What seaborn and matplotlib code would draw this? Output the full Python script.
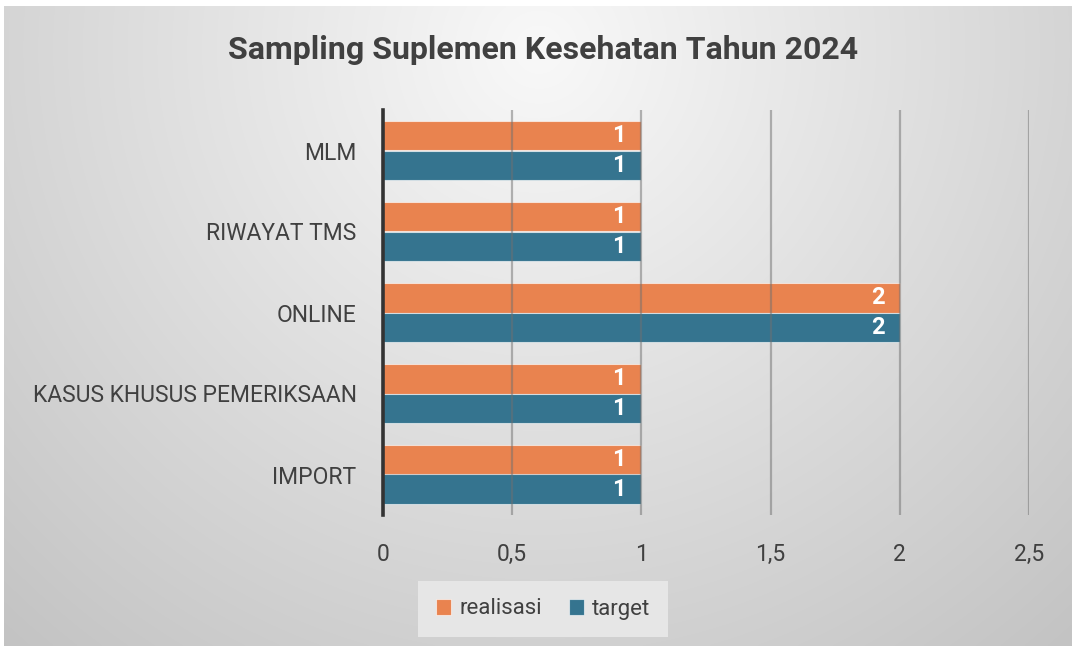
import numpy as np
import matplotlib.pyplot as plt
import seaborn as sns
import pandas as pd

categories = ["MLM", "RIWAYAT TMS", "ONLINE", "KASUS KHUSUS PEMERIKSAAN", "IMPORT"]
realisasi = [1, 1, 2, 1, 1]
target = [1, 1, 2, 1, 1]
series_names = ["realisasi", "target"]
x_ticks = [0, 0.5, 1, 1.5, 2, 2.5]
x_ticklabels = ["0", "0,5", "1", "1,5", "2", "2,5"]
title = "Sampling Suplemen Kesehatan Tahun 2024"

colors = {"realisasi": "#E9834F", "target": "#35748F"}

df = pd.DataFrame({
    "kategori": categories * 2,
    "nilai": realisasi + target,
    "seri": [series_names[0]] * len(categories) + [series_names[1]] * len(categories),
})

sns.set_theme(style="white")
plt.rcParams["font.family"] = ["Roboto", "DejaVu Sans"]

W, H = 1076, 650
fig = plt.figure(figsize=(W / 100, H / 100), dpi=100)
fig.patch.set_facecolor("white")

# gradient background (light at top centre, grey towards edges)
bg = fig.add_axes([4 / W, 4 / H, (W - 8) / W, (H - 10) / H], zorder=-10)
yy, xx = np.mgrid[0:300, 0:500]
r = np.sqrt(((xx - 250) / 320.0) ** 2 + ((yy - 20) / 320.0) ** 2)
shade = 0.975 - 0.18 * np.clip(r, 0, 1.2)
bg.imshow(np.dstack([shade] * 3), aspect="auto", interpolation="bilinear")
bg.axis("off")

ax = fig.add_axes([383 / W, 1 - 515 / H, 646 / W, 405 / H])
ax.patch.set_alpha(0)

sns.barplot(data=df, y="kategori", x="nilai", hue="seri", order=categories,
            hue_order=series_names, palette=colors, orient="h", width=0.74,
            edgecolor=(1, 1, 1, 0.6), linewidth=0.8, saturation=1,
            legend=True, ax=ax, zorder=2)

for cont in ax.containers:
    ax.bar_label(cont, labels=[f"{v:g}" for v in cont.datavalues], padding=-21,
                 color="white", fontsize=17, fontweight="bold", zorder=5)

ax.set_xlim(0, 2.5)
ax.set_ylim(len(categories) - 0.5, -0.5)
ax.set_xticks(x_ticks)
ax.set_xticklabels(x_ticklabels)
ax.xaxis.grid(True, color="#707070", linewidth=1.6, alpha=0.5, zorder=3)
ax.set_axisbelow(False)
for s in ["top", "right", "bottom"]:
    ax.spines[s].set_visible(False)
ax.spines["left"].set_color("#333333")
ax.spines["left"].set_linewidth(2.6)
ax.spines["left"].set_zorder(6)
ax.tick_params(axis="both", length=0, labelsize=16.5, colors="#404040")
ax.tick_params(axis="y", pad=19)
ax.tick_params(axis="x", pad=20)
ax.set_xlabel("")
ax.set_ylabel("")

leg = ax.legend(loc="center", bbox_to_anchor=(543 / W, 1 - 609 / H),
                bbox_transform=fig.transFigure, ncol=2, frameon=True,
                fontsize=16, handlelength=0.7, handleheight=0.7,
                handletextpad=0.35, columnspacing=1.2, borderpad=0.8)
leg.get_frame().set_facecolor("#e6e6e6")
leg.get_frame().set_edgecolor("none")
leg.get_frame().set_alpha(1)
leg.get_frame().set_boxstyle("square", pad=0)
for t in leg.get_texts():
    t.set_color("#404040")

fig.text(543 / W, 1 - 50 / H, title, ha="center", va="center",
         fontsize=23, fontweight="bold", color="#404040")

fig.savefig("out.png", dpi=100)
